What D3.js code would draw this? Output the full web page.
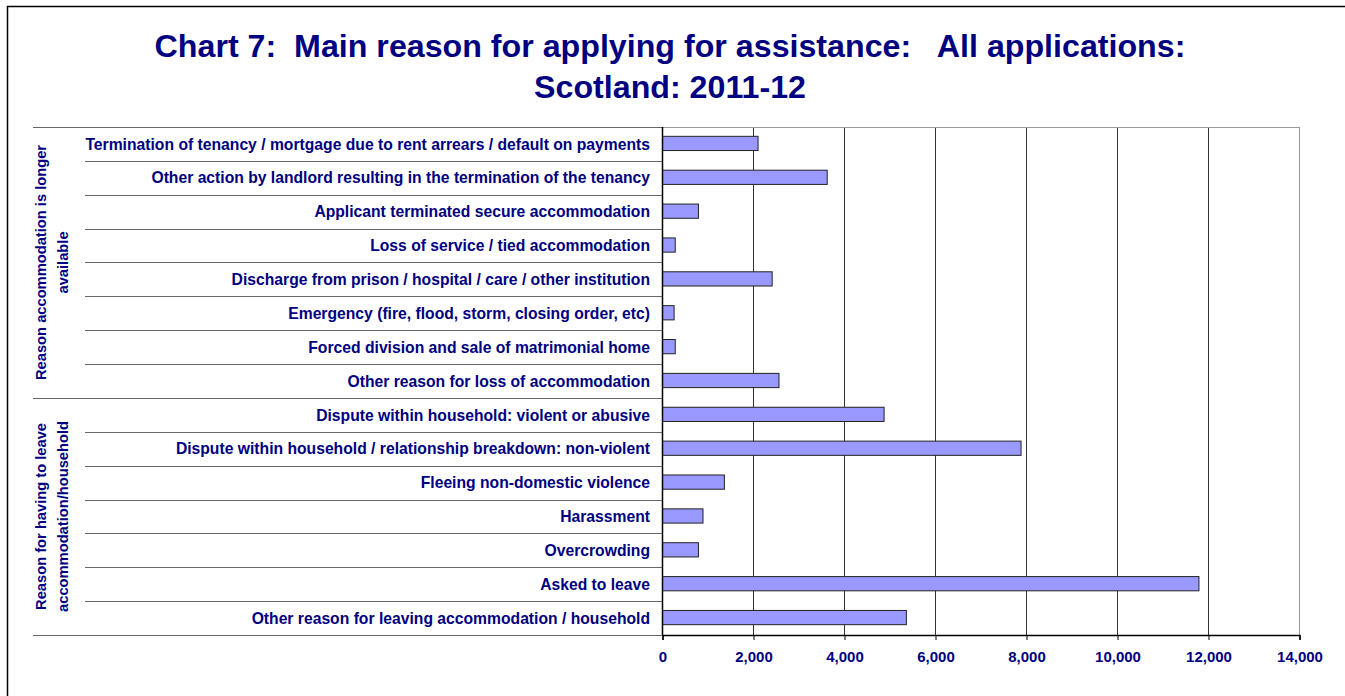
<!DOCTYPE html>
<html>
<head>
<meta charset="utf-8">
<script src="https://cdn.jsdelivr.net/npm/d3@7"></script>
<style>
  html, body { margin: 0; padding: 0; background: #fff; }
  svg { display: block; font-family: "Liberation Sans", Arial, sans-serif; }
  .title { white-space: pre; }
</style>
</head>
<body>
<svg id="chart" width="1345" height="696"></svg>
<script>
// Main reason for applying for assistance, Scotland 2011-12
const reasons = [
  "Termination of tenancy / mortgage due to rent arrears / default on payments",
  "Other action by landlord resulting in the termination of the tenancy",
  "Applicant terminated secure accommodation",
  "Loss of service / tied accommodation",
  "Discharge from prison / hospital / care / other institution",
  "Emergency (fire, flood, storm, closing order, etc)",
  "Forced division and sale of matrimonial home",
  "Other reason for loss of accommodation",
  "Dispute within household: violent or abusive",
  "Dispute within household / relationship breakdown: non-violent",
  "Fleeing non-domestic violence",
  "Harassment",
  "Overcrowding",
  "Asked to leave",
  "Other reason for leaving accommodation / household"
];
const applications = [2100, 3620, 790, 280, 2410, 255, 280, 2560, 4870, 7880, 1360, 890, 790, 11790, 5360];

const groupLabels = [
  ["Reason accommodation is longer", "available"],
  ["Reason for having to leave", "accommodation/household"]
];
const groupSizes = [8, 7];

const xTicks = [0, 2000, 4000, 6000, 8000, 10000, 12000, 14000];
const titleLines = [
  "Chart 7:  Main reason for applying for assistance:   All applications:",
  "Scotland: 2011-12"
];

const NAVY = "#000080";
const svg = d3.select("#chart");

// outer frame (left and top edges)
svg.append("path")
  .attr("d", "M7.5,696 V6.5 H1345")
  .attr("fill", "none").attr("stroke", "#000").attr("stroke-width", 1.5);

// title
svg.append("g").selectAll("text").data(titleLines).join("text")
  .attr("class", "title")
  .attr("xml:space", "preserve")
  .attr("x", 670)
  .attr("y", (d, i) => 57 + i * 41)
  .attr("text-anchor", "middle")
  .attr("fill", NAVY)
  .attr("font-weight", "bold")
  .attr("font-size", 32.2)
  .text(d => d);

const x = d3.scaleLinear().domain([0, 14000]).range([662.5, 1299.5]);
const y = d3.scaleBand().domain(reasons).range([127, 635]).padding(0);

// vertical gridlines
svg.append("g").selectAll("line").data(xTicks.slice(1)).join("line")
  .attr("x1", d => x(d)).attr("x2", d => x(d))
  .attr("y1", 127).attr("y2", 635)
  .attr("stroke", d => d === 14000 ? "#999" : "#333")
  .attr("stroke-width", 1);

// plot top border
svg.append("line")
  .attr("x1", x(0)).attr("x2", x(14000))
  .attr("y1", 127.5).attr("y2", 127.5)
  .attr("stroke", "#999").attr("stroke-width", 1);

// bars
const barH = y.bandwidth() * 0.42;
svg.append("g").selectAll("rect").data(reasons).join("rect")
  .attr("x", x(0))
  .attr("y", d => y(d) + (y.bandwidth() - barH) / 2 - 0.5)
  .attr("width", (d, i) => x(applications[i]) - x(0))
  .attr("height", barH)
  .attr("fill", "#9999FF")
  .attr("stroke", "#222")
  .attr("stroke-width", 1);

// category labels
svg.append("g").selectAll("text").data(reasons).join("text")
  .attr("x", 650)
  .attr("y", d => y(d) + y.bandwidth() / 2)
  .attr("dy", "0.36em")
  .attr("text-anchor", "end")
  .attr("fill", NAVY)
  .attr("font-weight", "bold")
  .attr("font-size", 15.7)
  .text(d => d);

// row separators: short ones inside a group, long ones between groups
const boundaries = [];
let idx = 0;
groupSizes.forEach(n => {
  for (let k = 0; k < n; k++) {
    if (k > 0) boundaries.push(y(reasons[idx]));
    idx++;
  }
});
const groupEdges = [127];
{
  let acc = 0;
  groupSizes.forEach(n => { acc += n; groupEdges.push(acc < reasons.length ? y(reasons[acc]) : 635); });
}
svg.append("g").selectAll("line").data(boundaries).join("line")
  .attr("x1", 85).attr("x2", x(0))
  .attr("y1", d => Math.round(d) + 0.5).attr("y2", d => Math.round(d) + 0.5)
  .attr("stroke", "#666").attr("stroke-width", 1);
svg.append("g").selectAll("line").data(groupEdges).join("line")
  .attr("x1", 33).attr("x2", x(0))
  .attr("y1", d => Math.round(d) + 0.5).attr("y2", d => Math.round(d) + 0.5)
  .attr("stroke", "#666").attr("stroke-width", 1);

// group labels (rotated)
groupLabels.forEach((lines, g) => {
  const cy = (groupEdges[g] + groupEdges[g + 1]) / 2;
  const t = svg.append("text")
    .attr("transform", `translate(0,${cy}) rotate(-90)`)
    .attr("text-anchor", "middle")
    .attr("fill", NAVY)
    .attr("font-weight", "bold")
    .attr("font-size", 14.7);
  lines.forEach((ln, i) => {
    t.append("tspan").attr("x", 0).attr("y", 46 + i * 22).text(ln);
  });
});

// y axis line
svg.append("line")
  .attr("x1", x(0)).attr("x2", x(0)).attr("y1", 127).attr("y2", 635)
  .attr("stroke", "#000").attr("stroke-width", 1.5);

// x axis
const xAxis = svg.append("g")
  .attr("transform", "translate(0,635)")
  .call(d3.axisBottom(x).tickValues(xTicks).tickSize(5).tickPadding(11)
    .tickFormat(d3.format(",")));
xAxis.select(".domain").attr("stroke", "#000").attr("stroke-width", 1.5);
xAxis.selectAll(".tick line").attr("stroke", "#000");
xAxis.selectAll(".tick text")
  .attr("fill", NAVY)
  .attr("font-weight", "bold")
  .attr("font-size", 15)
  .attr("font-family", "Liberation Sans, Arial, sans-serif");
</script>
</body>
</html>
